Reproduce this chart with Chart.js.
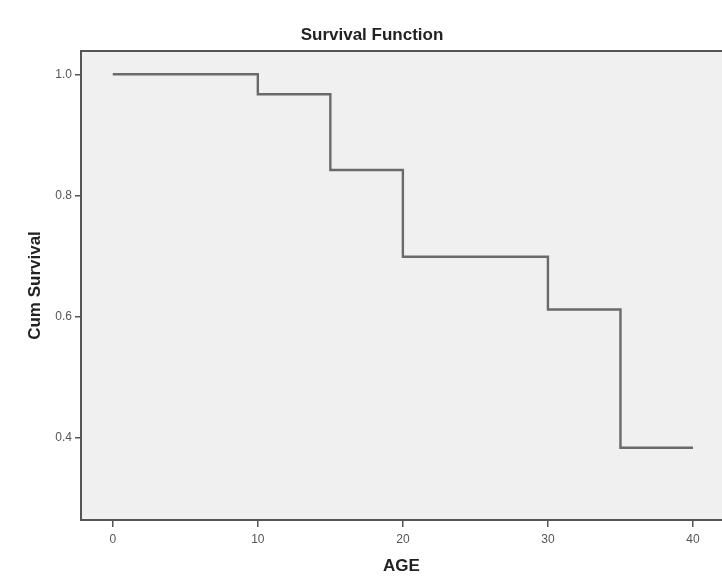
<!DOCTYPE html>
<html>
<head>
<meta charset="utf-8">
<script src="https://cdn.jsdelivr.net/npm/chart.js@4.4.0/dist/chart.umd.min.js"></script>
<style>
    html, body { margin: 0; padding: 0; background: #fff; }
    #wrap { width: 722px; height: 586px; }
</style>
</head>
<body>
<div id="wrap"><canvas id="myChart" width="722" height="586"></canvas></div>
<script>
// step points: age where survival drops, and the new cum survival
const ages = [0, 10, 15, 20, 30, 35, 40];
const survival = [1.0, 0.967, 0.842, 0.699, 0.612, 0.384, 0.384];
const xTicks = [0, 10, 20, 30, 40];
const yTicks = [0.4, 0.6, 0.8, 1.0];

const frameColor = '#555555';

const boxPlugin = {
    id: 'box',
    beforeDraw(chart) {
        const c = chart.ctx, a = chart.chartArea;
        c.save();
        c.fillStyle = '#f0f0f0';
        c.fillRect(a.left, a.top, a.right - a.left, a.bottom - a.top);
        c.restore();
    },
    afterDraw(chart) {
        const c = chart.ctx, a = chart.chartArea;
        c.save();
        // top border of the plot frame
        c.strokeStyle = frameColor;
        c.lineWidth = 2;
        c.beginPath();
        c.moveTo(a.left - 1, a.top);
        c.lineTo(a.right, a.top);
        c.stroke();
        // chart title
        c.fillStyle = '#222';
        c.font = 'bold 17px "Liberation Sans", Arial, sans-serif';
        c.textAlign = 'center';
        c.textBaseline = 'middle';
        c.fillText('Survival Function', 372, 35);
        c.restore();
    }
};

const ctx = document.getElementById('myChart').getContext('2d');
const myChart = new Chart(ctx, {
    type: 'line',
    data: {
        datasets: [{
            label: 'Survival',
            data: ages.map((a, i) => ({x: a, y: survival[i]})),
            stepped: 'before',
            fill: false,
            borderColor: '#6a6a6a',
            borderWidth: 2.4,
            pointRadius: 0,
            tension: 0
        }]
    },
    options: {
        responsive: false,
        animation: false,
        layout: { padding: { top: 51, right: 0, left: 0, bottom: 0 } },
        plugins: {
            legend: { display: false },
            tooltip: { enabled: false },
            title: { display: false }
        },
        scales: {
            x: {
                type: 'linear',
                min: -2.19,
                max: 42.0,
                afterBuildTicks: (s) => { s.ticks = xTicks.map(v => ({value: v})); },
                afterFit: (s) => { s.height = 66; },
                grid: { drawOnChartArea: false, drawTicks: true, tickLength: 7, color: frameColor, lineWidth: 1.5 },
                border: { display: true, color: frameColor, width: 2 },
                ticks: {
                    color: '#555',
                    padding: 5,
                    maxRotation: 0,
                    font: { family: '"Liberation Sans", Arial, sans-serif', size: 12 }
                },
                title: {
                    display: true,
                    text: 'AGE',
                    color: '#222',
                    padding: { top: 0, bottom: 9 },
                    font: { family: '"Liberation Sans", Arial, sans-serif', size: 17, weight: 'bold' }
                }
            },
            y: {
                type: 'linear',
                min: 0.2647,
                max: 1.0384,
                afterBuildTicks: (s) => { s.ticks = yTicks.map(v => ({value: v})); },
                afterFit: (s) => { s.width = 81; },
                grid: { drawOnChartArea: false, drawTicks: true, tickLength: 6, color: frameColor, lineWidth: 1.5 },
                border: { display: true, color: frameColor, width: 2 },
                ticks: {
                    color: '#555',
                    padding: 3,
                    callback: (v) => v.toFixed(1),
                    font: { family: '"Liberation Sans", Arial, sans-serif', size: 12 }
                },
                title: {
                    display: true,
                    text: 'Cum Survival',
                    color: '#222',
                    padding: { top: 25, bottom: 0 },
                    font: { family: '"Liberation Sans", Arial, sans-serif', size: 17, weight: 'bold' }
                }
            }
        }
    },
    plugins: [boxPlugin]
});
</script>
</body>
</html>
